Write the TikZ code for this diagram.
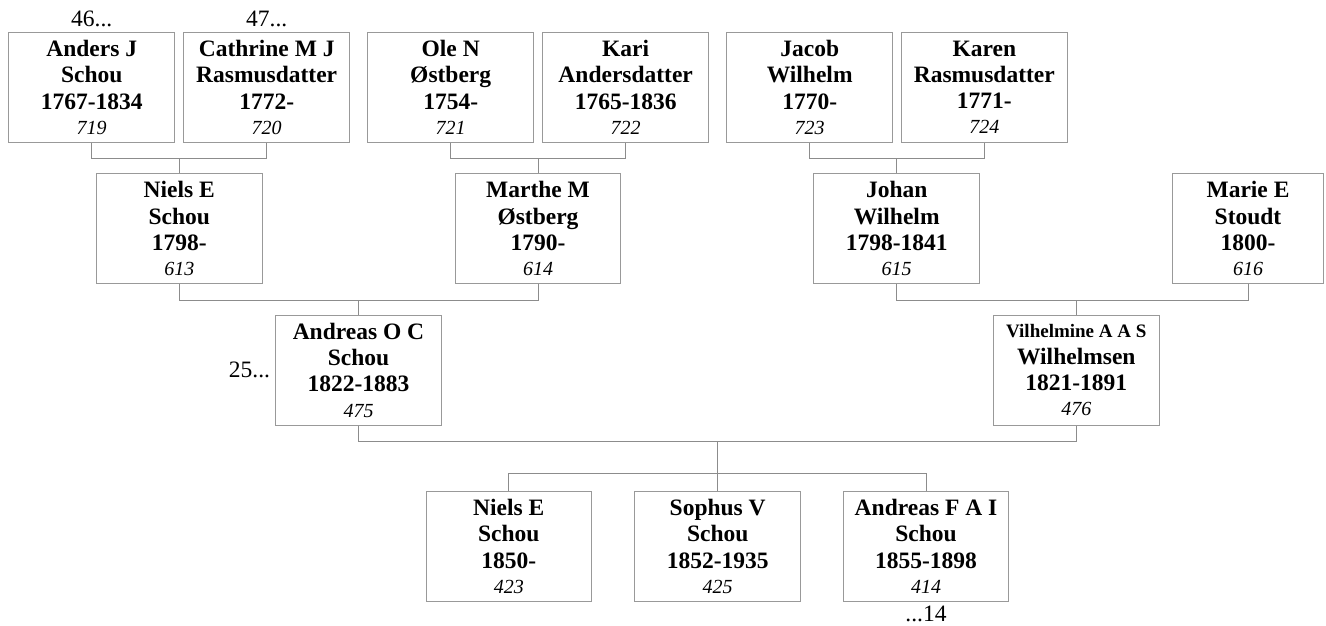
\documentclass[tikz,border=0pt]{standalone}
\usepackage{fontspec}
\setmainfont{Liberation Serif}
\usetikzlibrary{positioning}

\newcommand{\idno}[1]{{\mdseries\itshape\fontsize{20}{24}\selectfont #1}}

\begin{document}
\begin{tikzpicture}[x=1pt,y=-1pt,
    person/.style={draw=black!40,line width=1pt,minimum width=165.5pt,minimum height=110pt,
      inner sep=0pt,align=center,font=\fontsize{23.5}{26.3}\selectfont\bfseries},
    conn/.style={draw=black!45,line width=1pt},
    more/.style={inner sep=0pt,font=\fontsize{23.5}{26}\selectfont}]
    \useasboundingbox (0,0) rectangle (1326,626);
    % grandparents
    \node[person] (anders) at (91.7,87.3) {Anders J\\Schou\\1767-1834\\[-1pt]\idno{719}};
    \node[person] (cathrine) at (266.7,87.3) {Cathrine M J\\Rasmusdatter\\1772-\\[-1pt]\idno{720}};
    \node[person] (ole) at (450.7,87.3) {Ole N\\Østberg\\1754-\\[-1pt]\idno{721}};
    \node[person] (kari) at (625.7,87.3) {Kari\\Andersdatter\\1765-1836\\[-1pt]\idno{722}};
    \node[person] (jacob) at (809.7,87.3) {Jacob\\Wilhelm\\1770-\\[-1pt]\idno{723}};
    \node[person] (karen) at (984.3,87.3) {Karen\\Rasmusdatter\\1771-\\[-1pt]\idno{724}};
    % parents
    \node[person] (niels) at (179.3,228.8) {Niels E\\Schou\\1798-\\[-1pt]\idno{613}};
    \node[person] (marthe) at (538,228.8) {Marthe M\\Østberg\\1790-\\[-1pt]\idno{614}};
    \node[person] (johan) at (896.7,228.8) {Johan\\Wilhelm\\1798-1841\\[-1pt]\idno{615}};
    \node[person,minimum width=151pt] (marie) at (1248,228.8) {Marie E\\Stoudt\\1800-\\[-1pt]\idno{616}};
    % couple
    \node[person] (andreas) at (358.5,370.2) {Andreas O C\\Schou\\1822-1883\\[-1pt]\idno{475}};
    \node[person] (vilh) at (1076.3,370.2) {{\fontsize{19}{24}\selectfont Vilhelmine A A S}\\Wilhelmsen\\1821-1891\\[-1pt]\idno{476}};
    % children
    \node[person] (nielsc) at (508.8,546.3) {Niels E\\Schou\\1850-\\[-1pt]\idno{423}};
    \node[person] (sophus) at (717.7,546.3) {Sophus V\\Schou\\1852-1935\\[-1pt]\idno{425}};
    \node[person] (andreasf) at (926,546.3) {Andreas F A I\\Schou\\1855-1898\\[-1pt]\idno{414}};

    % continuation marks
    \node[more,anchor=base] (more46) at ([yshift=5pt]anders.north) {46...};
    \node[more,anchor=base] (more47) at ([yshift=5pt]cathrine.north) {47...};
    \node[more,left=5pt of andreas] (more25) {25...};
    \node[more,below=4pt of andreasf] (more14) {...14};

    % connectors
    \draw[conn] (anders.south) -- ++(0,15.7) coordinate (l1) -| (cathrine.south);
    \draw[conn] (niels.north) -- (niels.north |- l1);
    \draw[conn] (ole.south) -- ++(0,15.7) coordinate (l2) -| (kari.south);
    \draw[conn] (marthe.north) -- (marthe.north |- l2);
    \draw[conn] (jacob.south) -- ++(0,15.7) coordinate (l3) -| (karen.south);
    \draw[conn] (johan.north) -- (johan.north |- l3);
    \draw[conn] (niels.south) -- ++(0,16) coordinate (l4) -| (marthe.south);
    \draw[conn] (andreas.north) -- (andreas.north |- l4);
    \draw[conn] (johan.south) -- ++(0,16) coordinate (l5) -| (marie.south);
    \draw[conn] (vilh.north) -- (vilh.north |- l5);
    \draw[conn] (andreas.south) -- ++(0,15.4) coordinate (fam) -| (vilh.south);
    \draw[conn] (nielsc.north) -- ++(0,-17) -| (andreasf.north);
    \draw[conn] (sophus.north) -- (sophus.north |- fam);
\end{tikzpicture}
\end{document}
